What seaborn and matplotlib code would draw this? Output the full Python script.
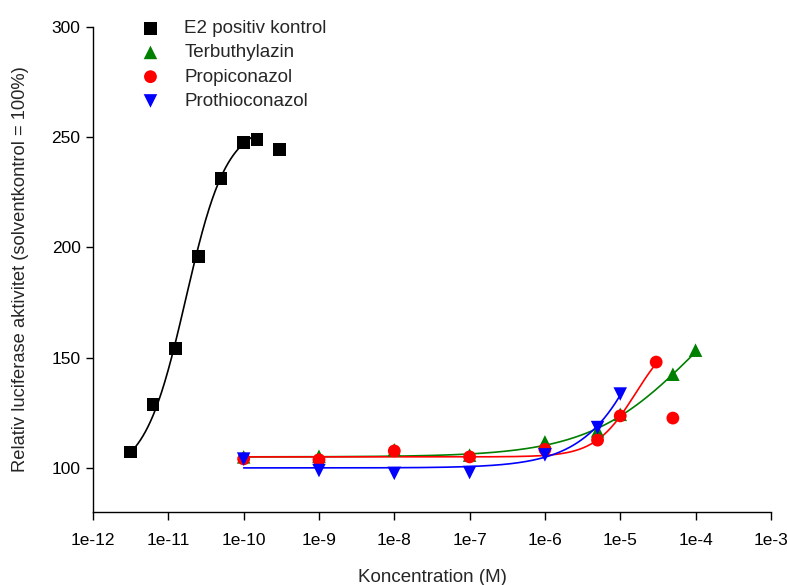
import numpy as np
import pandas as pd
import matplotlib
matplotlib.use("Agg")
import matplotlib.pyplot as plt
import seaborn as sns

# Measured responses (relative luciferase activity, solvent control = 100%)
e2_conc = [3.125e-12, 6.25e-12, 1.25e-11, 2.5e-11, 5e-11, 1e-10, 1.5e-10, 3e-10]
e2_resp = [107.2, 128.6, 154.1, 195.9, 231.4, 247.7, 249.1, 244.5]

terb_conc = [1e-10, 1e-9, 1e-8, 1e-7, 1e-6, 5e-6, 1e-5, 5e-5, 1e-4]
terb_resp = [105.0, 105.3, 108.2, 105.8, 111.8, 116.8, 124.3, 142.5, 153.4]

propi_conc = [1e-10, 1e-9, 1e-8, 1e-7, 1e-6, 5e-6, 1e-5, 3e-5, 5e-5]
propi_resp = [104.1, 103.7, 107.7, 105.0, 108.4, 112.6, 123.6, 148.0, 122.6]

prothio_conc = [1e-10, 1e-9, 1e-8, 1e-7, 1e-6, 5e-6, 1e-5]
prothio_resp = [104.0, 98.8, 97.5, 97.9, 105.9, 118.3, 133.5]

# Four-parameter logistic fits: bottom, top, EC50, Hill slope, fitted range
e2_fit = (97.0, 256.0, 1.7e-11, 1.6, 3.125e-12, 1.5e-10)
terb_fit = (105.0, 200.0, 1.0e-4, 0.616, 1e-10, 1e-4)
propi_fit = (105.0, 163.0, 1.61e-5, 1.6, 1e-10, 3e-5)
prothio_fit = (100.0, 300.0, 6.06e-5, 0.9, 1e-10, 1e-5)

names = ["E2 positiv kontrol", "Terbuthylazin", "Propiconazol", "Prothioconazol"]
colors = ["black", "green", "red", "blue"]
markers = ["s", "^", "o", "v"]
marker_sizes = [85, 95, 85, 95]

x_ticks = [1e-12, 1e-11, 1e-10, 1e-9, 1e-8, 1e-7, 1e-6, 1e-5, 1e-4, 1e-3]
x_labels = ["1e-12", "1e-11", "1e-10", "1e-9", "1e-8", "1e-7", "1e-6", "1e-5", "1e-4", "1e-3"]
y_ticks = [100, 150, 200, 250, 300]


def logistic(x, bottom, top, ec50, hill):
    return bottom + (top - bottom) / (1.0 + (ec50 / x) ** hill)


sns.set_theme(style="ticks")
plt.rcParams["font.family"] = ["Liberation Sans", "DejaVu Sans"]

fig = plt.figure(figsize=(7.87, 5.85), dpi=100)
ax = fig.add_axes([0.1182, 0.1248, 0.9795 - 0.1182, 0.9538 - 0.1248])

series = [
    (e2_conc, e2_resp, e2_fit),
    (terb_conc, terb_resp, terb_fit),
    (propi_conc, propi_resp, propi_fit),
    (prothio_conc, prothio_resp, prothio_fit),
]

for i, ((conc, resp, fit), name) in enumerate(zip(series, names)):
    bottom, top, ec50, hill, lo, hi = fit
    xs = np.logspace(np.log10(lo), np.log10(hi), 300)
    curve = pd.DataFrame({"x": xs, "y": logistic(xs, bottom, top, ec50, hill)})
    sns.lineplot(data=curve, x="x", y="y", ax=ax, color=colors[i],
                 linewidth=1.2, zorder=2 + i, legend=False)

for i, ((conc, resp, fit), name) in enumerate(zip(series, names)):
    pts = pd.DataFrame({"x": conc, "y": resp})
    sns.scatterplot(data=pts, x="x", y="y", ax=ax, color=colors[i],
                    marker=markers[i], s=marker_sizes[i], edgecolor="none",
                    label=name, zorder=10 + i)

ax.set_xscale("log")
ax.set_xlim(1e-12, 1e-3)
ax.set_ylim(80, 300)
ax.set_xticks(x_ticks)
ax.set_xticklabels(x_labels)
ax.xaxis.set_minor_locator(matplotlib.ticker.NullLocator())
ax.set_yticks(y_ticks)
ax.tick_params(axis="both", direction="out", width=1, labelsize=12.5,
               color="black", labelcolor="black")
ax.tick_params(axis="x", length=6, pad=9)
ax.tick_params(axis="y", length=5, pad=4)

for side in ["top", "right"]:
    ax.spines[side].set_visible(False)
for side in ["left", "bottom"]:
    ax.spines[side].set_color("black")
    ax.spines[side].set_linewidth(1)

ax.set_xlabel("Koncentration (M)", fontsize=13.5, labelpad=15)
ax.set_ylabel("Relativ luciferase aktivitet (solventkontrol = 100%)", fontsize=13.2,
              labelpad=16)

leg = ax.legend(loc="upper left", bbox_to_anchor=(0.046, 1.03), frameon=False,
                fontsize=13.5, handletextpad=0.8, labelspacing=0.38,
                borderaxespad=0.0)

fig.savefig("out.png", dpi=100)
